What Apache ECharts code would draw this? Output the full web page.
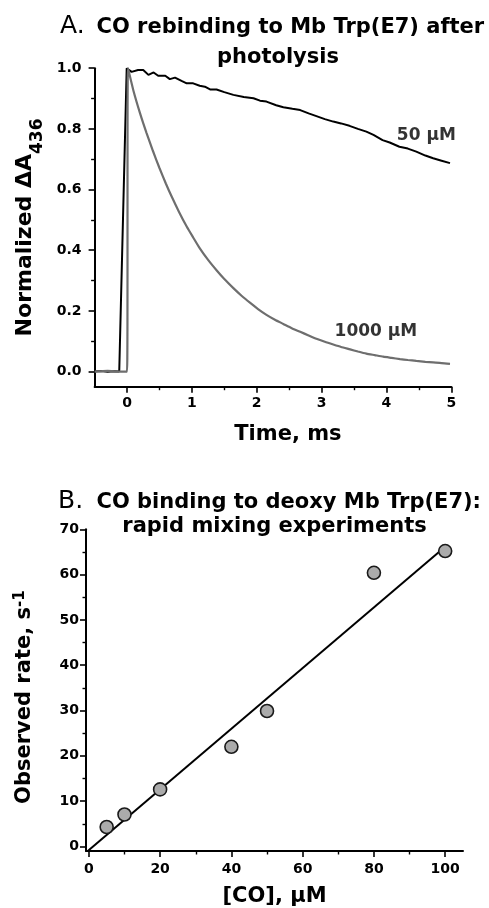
<!DOCTYPE html>
<html><head><meta charset="utf-8">
<script src="https://cdn.jsdelivr.net/npm/echarts@6/dist/echarts.min.js"></script>
<style>html,body{margin:0;padding:0;background:#fff}#c{width:489px;height:908px}</style>
</head><body><div id="c"></div>
<script>
// ---- Panel A: CO rebinding after photolysis ----
const time50 = [-0.5,-0.4,-0.3,-0.2,-0.12,-0.005,0.07,0.17,0.25,0.33,0.41,0.48,0.59,0.66,0.74,0.84,0.92,1.02,1.12,1.2,1.28,1.38,1.5,1.64,1.8,1.95,2.05,2.15,2.3,2.41,2.55,2.67,2.8,2.92,3.05,3.18,3.3,3.43,3.56,3.69,3.8,3.94,4.05,4.2,4.33,4.46,4.6,4.72,4.85,4.98];
const value50 = [0,0.002,-0.001,0.001,0,1.0,0.988,0.994,0.994,0.978,0.986,0.975,0.975,0.964,0.969,0.958,0.95,0.95,0.942,0.939,0.93,0.93,0.921,0.912,0.905,0.901,0.893,0.89,0.878,0.871,0.866,0.862,0.851,0.842,0.832,0.824,0.818,0.81,0.8,0.791,0.78,0.763,0.755,0.741,0.735,0.725,0.712,0.703,0.695,0.687];
const time1000 = [-0.5,-0.3,-0.1,0,0.015,0.1,0.2,0.3,0.4,0.5,0.6,0.69,0.8,0.92,1.02,1.12,1.25,1.38,1.5,1.64,1.77,1.9,2.02,2.15,2.28,2.41,2.54,2.67,2.8,2.92,3.05,3.18,3.3,3.44,3.56,3.69,3.82,3.95,4.08,4.21,4.33,4.46,4.6,4.72,4.85,4.98];
const value1000 = [0,0.002,0,0,1.0,0.925,0.852,0.787,0.727,0.671,0.619,0.576,0.527,0.478,0.442,0.407,0.368,0.334,0.305,0.275,0.249,0.226,0.206,0.187,0.171,0.157,0.143,0.131,0.119,0.108,0.098,0.089,0.081,0.073,0.066,0.059,0.054,0.049,0.045,0.041,0.038,0.035,0.032,0.03,0.028,0.025];
const traceLabels = [[4.16,0.777,'50 μM'],[3.2,0.131,'1000 μM']];
const aXMajor = [0,1,2,3,4,5];
const aXMinor = [0.5,1.5,2.5,3.5,4.5];
const aYMajor = [0,0.2,0.4,0.6,0.8,1.0];
const aYMinor = [0.1,0.3,0.5,0.7,0.9];

// ---- Panel B: rapid mixing ----
const coConc = [5,10,20,40,50,80,100];
const obsRate = [4.3,7.06,12.6,22.0,29.9,60.4,65.2];
const fitX = [-0.3,99.5];
const fitY = [-1.0,65.8];
const bXMajor = [0,20,40,60,80,100];
const bXMinor = [10,30,50,70,90];
const bYMajor = [0,10,20,30,40,50,60,70];
const bYMinor = [5,15,25,35,45,55,65];

const FF = '"DejaVu Sans", sans-serif';
const zip = (a,b) => a.map((x,i)=>[x,b[i]]);
const lineStyleAxis = {color:'#000', width:2};

function majorAxis(dim, grid, min, max, ticks, labels, fmt, margin, extra){
  return Object.assign({
    type:'value', gridIndex:grid, min:min, max:max,
    position: dim==='x' ? 'bottom' : 'left',
    splitLine:{show:false},
    axisLine:{show:true, onZero:false, lineStyle:lineStyleAxis},
    axisTick:{show:true, inside:false, length:6, customValues:ticks, lineStyle:{color:'#000', width:1.6}},
    axisLabel:{show:true, customValues:labels, formatter:fmt, margin:margin, color:'#000',
      fontFamily:FF, fontWeight:'bold', fontSize:14}
  }, extra||{});
}
function minorAxis(dim, grid, min, max, ticks){
  return {
    type:'value', gridIndex:grid, min:min, max:max,
    position: dim==='x' ? 'bottom' : 'left',
    splitLine:{show:false},
    axisLine:{show:false, onZero:false},
    axisTick:{show:true, inside:false, length:3.5, customValues:ticks, lineStyle:{color:'#000', width:1.4}},
    axisLabel:{show:false}
  };
}

const chart = echarts.init(document.getElementById('c'), null, {renderer:'canvas'});
const option = {
  animation:false,
  backgroundColor:'#fff',
  grid:[
    {left:94.6, right:37.7, top:68.2, bottom:521.3},
    {left:86, right:26, top:529.3, bottom:57}
  ],
  xAxis:[
    majorAxis('x',0,-0.5,5,aXMajor,aXMajor,v=>String(v),10,{
      name:'Time, ms', nameLocation:'middle', nameGap:37,
      nameTextStyle:{fontFamily:FF, fontWeight:'bold', fontSize:21, color:'#000', padding:[0,0,0,30]}
    }),
    minorAxis('x',0,-0.5,5,aXMinor),
    majorAxis('x',1,-0.8,105,bXMajor,bXMajor,v=>String(v),11,{
      name:'[CO], μM', nameLocation:'middle', nameGap:35,
      nameTextStyle:{fontFamily:FF, fontWeight:'bold', fontSize:21, color:'#000'}
    }),
    minorAxis('x',1,-0.8,105,bXMinor)
  ],
  yAxis:[
    majorAxis('y',0,-0.05,1.0,aYMajor,aYMajor,v=>v.toFixed(1),13,{
      name:'{m|Normalized ΔA}{s|436}', nameLocation:'middle', nameGap:45,
      nameTextStyle:{fontFamily:FF, fontWeight:'bold', fontSize:22, color:'#000',
        rich:{
          m:{fontFamily:FF, fontWeight:'bold', fontSize:22, color:'#000', lineHeight:22, verticalAlign:'top'},
          s:{fontFamily:FF, fontWeight:'bold', fontSize:17, color:'#000', lineHeight:32, verticalAlign:'bottom'}
        }}
    }),
    minorAxis('y',0,-0.05,1.0,aYMinor),
    majorAxis('y',1,-1,70,bYMajor,bYMajor,v=>String(v),7,{
      name:'{m|Observed rate, s}{s|-1}', nameLocation:'middle', nameGap:51,
      nameTextStyle:{fontFamily:FF, fontWeight:'bold', fontSize:21, color:'#000', padding:[0,14,0,0],
        rich:{
          m:{fontFamily:FF, fontWeight:'bold', fontSize:21, color:'#000', lineHeight:22, verticalAlign:'bottom'},
          s:{fontFamily:FF, fontWeight:'bold', fontSize:15, color:'#000', lineHeight:2, verticalAlign:'top'}
        }}
    }),
    minorAxis('y',1,-1,70,bYMinor)
  ],
  series:[
    {type:'line', xAxisIndex:0, yAxisIndex:0, data:zip(time50,value50), showSymbol:false, symbol:'none',
      lineStyle:{color:'#000', width:2}, z:3},
    {type:'line', xAxisIndex:0, yAxisIndex:0, data:zip(time1000,value1000), showSymbol:false, symbol:'none',
      smooth:0.2, lineStyle:{color:'#6e6e6e', width:2.2}, z:4},
    {type:'scatter', xAxisIndex:0, yAxisIndex:0, data:traceLabels, symbolSize:0, silent:true,
      itemStyle:{color:'#000'},
      label:{show:true, position:[0,0], align:'left', verticalAlign:'middle', formatter:p=>p.value[2],
        fontFamily:FF, fontWeight:'bold', fontSize:17, color:'#000', textBorderWidth:0, textShadowBlur:0}},
    {type:'line', xAxisIndex:2, yAxisIndex:2, data:zip(fitX,fitY), showSymbol:false, symbol:'none',
      lineStyle:{color:'#000', width:2}, z:3},
    {type:'scatter', xAxisIndex:2, yAxisIndex:2, data:zip(coConc,obsRate), symbol:'circle', symbolSize:13,
      itemStyle:{color:'#ababab', borderColor:'#1a1a1a', borderWidth:1.6, opacity:1}, z:5}
  ],
  graphic:[
    {type:'text', x:60, y:26.5, style:{text:'A.', font:'25px '+FF, fill:'#000', verticalAlign:'middle', align:'left'}},
    {type:'text', x:96.5, y:27.7, style:{text:'CO rebinding to Mb Trp(E7) after', font:'bold 21px '+FF, fill:'#000', verticalAlign:'middle', align:'left'}},
    {type:'text', x:278, y:57.5, style:{text:'photolysis', font:'bold 21px '+FF, fill:'#000', verticalAlign:'middle', align:'center'}},
    {type:'text', x:58, y:501.5, style:{text:'B.', font:'25px '+FF, fill:'#000', verticalAlign:'middle', align:'left'}},
    {type:'text', x:96.5, y:502.7, style:{text:'CO binding to deoxy Mb Trp(E7):', font:'bold 21px '+FF, fill:'#000', verticalAlign:'middle', align:'left'}},
    {type:'text', x:274.5, y:527, style:{text:'rapid mixing experiments', font:'bold 21px '+FF, fill:'#000', verticalAlign:'middle', align:'center'}}
  ]
};
chart.setOption(option);
</script>
</body></html>
